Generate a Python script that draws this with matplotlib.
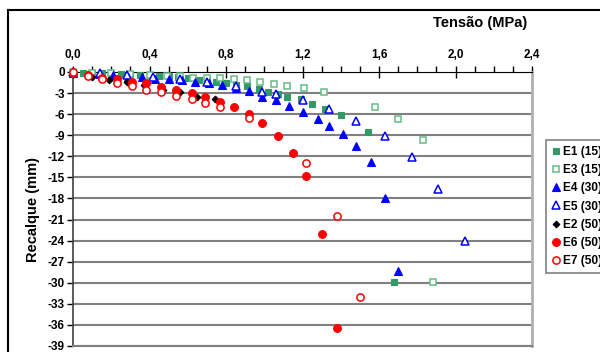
import numpy as np
import matplotlib.pyplot as plt
from matplotlib.lines import Line2D
from matplotlib.ticker import MultipleLocator, FuncFormatter

plt.rcParams['font.family'] = ['Liberation Sans', 'DejaVu Sans']
plt.rcParams['font.weight'] = 'bold'

# ==============================================================================
# data: stress (MPa) vs settlement (mm)
e1_x = [0.0, 0.05, 0.1, 0.15, 0.2, 0.25, 0.3, 0.35, 0.4, 0.45, 0.5, 0.55, 0.6, 0.66, 0.7, 0.75,
        0.8, 0.85, 0.91, 0.97, 1.02, 1.07, 1.12, 1.19, 1.25, 1.32, 1.40, 1.54, 1.68]
e1_y = [0.0, -0.1, -0.15, -0.2, -0.25, -0.3, -0.35, -0.4, -0.45, -0.5, -0.6, -0.7, -0.8, -1.1, -1.2, -1.4,
        -1.6, -1.8, -2.0, -2.4, -2.8, -3.1, -3.5, -3.8, -4.6, -5.3, -6.1, -8.6, -29.9]

e3_x = [0.0, 0.1, 0.2, 0.3, 0.4, 0.49, 0.56, 0.63, 0.70, 0.77, 0.84, 0.91, 0.98, 1.05, 1.12,
        1.21, 1.31, 1.58, 1.70, 1.83, 1.88]
e3_y = [0.0, -0.1, -0.2, -0.3, -0.4, -0.6, -0.6, -0.8, -0.9, -0.9, -1.0, -1.2, -1.4, -1.7, -2.0,
        -2.3, -2.8, -5.0, -6.7, -9.7, -29.9]

e4_x = [0.0, 0.14, 0.21, 0.29, 0.36, 0.43, 0.50, 0.57, 0.64, 0.71, 0.78, 0.85, 0.92, 0.99, 1.06,
        1.13, 1.20, 1.28, 1.34, 1.41, 1.48, 1.56, 1.63, 1.70]
e4_y = [-0.1, -0.3, -0.4, -0.7, -0.7, -1.0, -1.0, -1.2, -1.4, -1.6, -1.9, -2.3, -2.7, -3.5, -4.0,
        -4.8, -5.7, -6.7, -7.7, -8.8, -10.6, -12.8, -17.9, -28.3]

e5_x = [0.0, 0.14, 0.28, 0.42, 0.56, 0.70, 0.85, 0.99, 1.06, 1.20, 1.34, 1.48, 1.63, 1.77, 1.91, 2.05]
e5_y = [0.0, -0.2, -0.4, -0.7, -1.0, -1.4, -2.0, -2.8, -3.2, -4.0, -5.3, -7.0, -9.1, -12.1, -16.7, -24.0]

e2_x = [0.0, 0.10, 0.19, 0.28, 0.37, 0.47, 0.56, 0.65, 0.74]
e2_y = [0.0, -0.7, -1.1, -1.4, -1.9, -2.5, -2.9, -3.5, -3.9]

e6_x = [0.0, 0.08, 0.15, 0.23, 0.31, 0.38, 0.46, 0.54, 0.62, 0.69, 0.77, 0.84, 0.92, 0.99, 1.07,
        1.15, 1.22, 1.30, 1.38]
e6_y = [-0.1, -0.4, -0.8, -1.0, -1.4, -1.6, -2.1, -2.5, -3.0, -3.5, -4.2, -5.0, -6.0, -7.3, -9.1,
        -11.5, -14.8, -23.1, -36.4]

e7_x = [0.0, 0.08, 0.15, 0.23, 0.31, 0.38, 0.46, 0.54, 0.62, 0.69, 0.77, 0.92, 1.22, 1.38, 1.50]
e7_y = [0.0, -0.6, -1.0, -1.5, -2.0, -2.6, -2.9, -3.4, -3.9, -4.4, -5.0, -6.6, -13.0, -20.5, -32.0]

labels = ['E1 (15)', 'E3 (15)', 'E4 (30)', 'E5 (30)', 'E2 (50)', 'E6 (50)', 'E7 (50)']

# ==============================================================================
green = '#339966'
green_light = '#66bb88'
blue = '#0000ff'
red = '#ff0000'

fig = plt.figure(figsize=(6.0, 3.52), dpi=100)
ax = fig.add_axes([73/600, 1 - 346/352, (532 - 73)/600, (346 - 72)/352])

series = [
    (e1_x, e1_y, dict(marker='s', ms=4.0, mfc=green, mec=green, mew=0.8)),
    (e3_x, e3_y, dict(marker='s', ms=5.0, mfc='white', mec=green_light, mew=1.1)),
    (e4_x, e4_y, dict(marker='^', ms=5.6, mfc=blue, mec=blue, mew=0.8)),
    (e5_x, e5_y, dict(marker='^', ms=5.6, mfc='white', mec=blue, mew=1.1)),
    (e2_x, e2_y, dict(marker='D', ms=3.4, mfc='black', mec='black', mew=0.8)),
    (e6_x, e6_y, dict(marker='o', ms=5.6, mfc=red, mec=red, mew=0.8)),
    (e7_x, e7_y, dict(marker='o', ms=5.2, mfc='white', mec=red, mew=1.1)),
]
for (xs, ys, st), lab in zip(series, labels):
    ax.plot(xs, ys, linestyle='none', label=lab, clip_on=False, zorder=3, **st)

ax.set_xlim(0, 2.4)
ax.set_ylim(-39, 0)
ax.xaxis.set_major_locator(MultipleLocator(0.4))
ax.xaxis.set_minor_locator(MultipleLocator(0.1))
ax.yaxis.set_major_locator(MultipleLocator(3))
ax.xaxis.set_major_formatter(FuncFormatter(lambda v, p: ('%.1f' % v).replace('.', ',')))
ax.yaxis.set_major_formatter(FuncFormatter(lambda v, p: '%d' % round(v)))

ax.xaxis.tick_top()
ax.xaxis.set_label_position('top')
ax.tick_params(axis='x', which='major', direction='inout', length=8, width=1, labelsize=8.5, pad=4)
ax.tick_params(axis='x', which='minor', direction='out', length=4, width=1)
ax.tick_params(axis='y', which='major', direction='out', length=4, width=1, labelsize=8.5, pad=2)

ax.grid(axis='y', color='#808080', linewidth=1.5, zorder=0)
ax.set_axisbelow(True)
ax.spines['top'].set_color('black')
ax.spines['left'].set_color('#404040')
ax.spines['left'].set_linewidth(1.2)
ax.spines['right'].set_color('#b0b0b0')
ax.spines['right'].set_linewidth(2)
ax.spines['bottom'].set_color('#808080')
ax.spines['bottom'].set_linewidth(1.5)

ax.set_ylabel('Recalque (mm)', fontsize=10.5, fontweight='bold', labelpad=5)
fig.text(480/600, 1 - 23/352, 'Tensão (MPa)', fontsize=10.5, fontweight='bold',
         ha='center', va='center')

leg = ax.legend(loc='upper left', bbox_to_anchor=(546/600, 1 - 140/352),
                bbox_transform=fig.transFigure, frameon=True, fancybox=False,
                fontsize=8.6, handlelength=0.6, handletextpad=0.35, labelspacing=0.52,
                borderpad=0.5, borderaxespad=0)
leg.get_frame().set_edgecolor('#606060')
leg.get_frame().set_linewidth(1.2)

# outer chart border (cropped on right and bottom)
fig.add_artist(Line2D([8/600, 1.0], [1 - 10/352, 1 - 10/352], color='black', lw=1.5,
                      transform=fig.transFigure))
fig.add_artist(Line2D([8/600, 8/600], [0.0, 1 - 10/352], color='black', lw=1.5,
                      transform=fig.transFigure))

plt.savefig('out.png', dpi=100)
